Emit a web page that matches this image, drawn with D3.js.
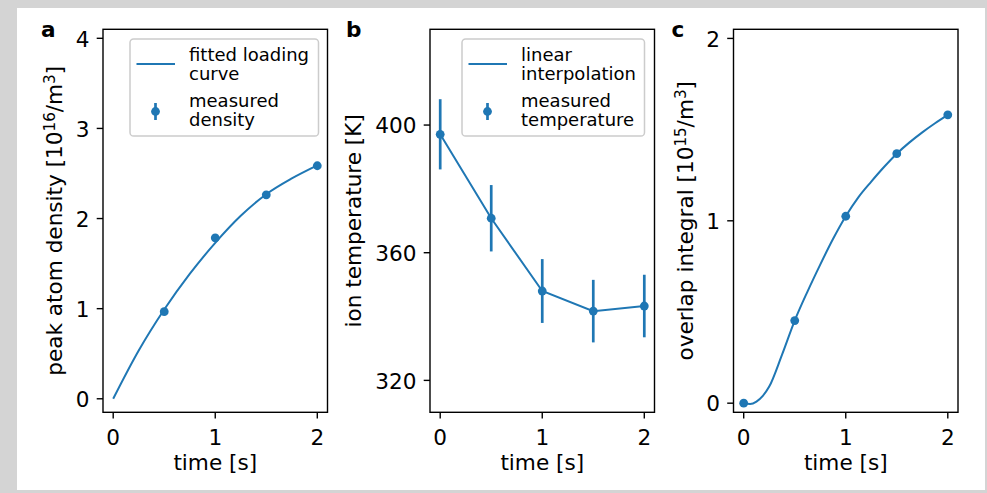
<!DOCTYPE html>
<html>
<head>
<meta charset="utf-8">
<script src="https://cdn.jsdelivr.net/npm/d3@7"></script>
<style>
  body { margin: 0; background: #d4d4d4; }
  svg { display: block; font-family: "DejaVu Sans", sans-serif; }
</style>
</head>
<body>
<svg id="fig" width="987" height="493"></svg>
<script>
// values
var timeTicks = [0, 1, 2];

// panel a: peak atom density
var densityTime = [0.5, 1, 1.5, 2];
var densityValues = [0.967, 1.786, 2.263, 2.586];
var fitTime = [0, 0.25, 0.5, 0.75, 1, 1.25, 1.5, 1.75, 2];
var fitValues = [0, 0.535, 0.99, 1.385, 1.73, 2.03, 2.27, 2.445, 2.59];
var densityTicks = [0, 1, 2, 3, 4];

// panel b: ion temperature
var tempTime = [0, 0.5, 1, 1.5, 2];
var tempValues = [397.1, 370.8, 348.0, 341.7, 343.3];
var tempErrors = [11, 10.4, 10, 9.8, 9.8];
var tempTicks = [320, 360, 400];

// panel c: overlap integral
var overlapTime = [0, 0.5, 1, 1.5, 2];
var overlapValues = [0, 0.453, 1.025, 1.368, 1.581];
var overlapCurveTime = [0, 0.0625, 0.125, 0.1875, 0.25, 0.375, 0.5, 0.625, 0.75, 0.875, 1, 1.125, 1.25, 1.375, 1.5, 1.625, 1.75, 1.875, 2];
var overlapCurveValues = [0, -0.004, 0.009, 0.04, 0.091, 0.265, 0.453, 0.612, 0.76, 0.9, 1.025, 1.13, 1.215, 1.295, 1.368, 1.43, 1.485, 1.535, 1.581];
var overlapTicks = [0, 1, 2];

var blue = "#1f77b4";
var axTop = 29.3, axBottom = 412.3;
var fs = 21.6, legendFs = 18;

var svg = d3.select("#fig");

// white figure area on grey page
svg.append("rect")
  .attr("x", 17).attr("y", 8)
  .attr("width", 968).attr("height", 482)
  .attr("fill", "white");

var panels = [
  { letter: "a", left: 103, right: 327.5, letterX: 41, yDomain: [-0.15, 4.1], yTicks: densityTicks, labelX: 62,
    label: [["peak atom density [10", 0], ["16", 1], ["/m", 0], ["3", 1], ["]", 0]] },
  { letter: "b", left: 430, right: 654.5, letterX: 346, yDomain: [310, 430], yTicks: tempTicks, labelX: 361,
    label: [["ion temperature [K]", 0]] },
  { letter: "c", left: 733.5, right: 958, letterX: 671.5, yDomain: [-0.05, 2.05], yTicks: overlapTicks, labelX: 693,
    label: [["overlap integral [10", 0], ["15", 1], ["/m", 0], ["3", 1], ["]", 0]] }
];

panels.forEach(function(p) {
  p.x = d3.scaleLinear().domain([-0.1, 2.1]).range([p.left, p.right]);
  p.y = d3.scaleLinear().domain(p.yDomain).range([axBottom, axTop]);
  p.g = svg.append("g");
});

function drawFrame(p) {
  var g = p.g;

  g.append("rect")
    .attr("x", p.left).attr("y", axTop)
    .attr("width", p.right - p.left).attr("height", axBottom - axTop)
    .attr("fill", "none")
    .attr("stroke", "black")
    .attr("stroke-width", 1.4);

  // x ticks
  g.selectAll(".xtick")
    .data(timeTicks)
    .enter().append("line")
    .attr("x1", d => p.x(d)).attr("x2", d => p.x(d))
    .attr("y1", axBottom).attr("y2", axBottom + 6.3)
    .attr("stroke", "black").attr("stroke-width", 1.4);

  g.selectAll(".xlab")
    .data(timeTicks)
    .enter().append("text")
    .attr("x", d => p.x(d))
    .attr("y", 445)
    .attr("text-anchor", "middle")
    .attr("font-size", fs)
    .text(d => d);

  // y ticks
  g.selectAll(".ytick")
    .data(p.yTicks)
    .enter().append("line")
    .attr("x1", p.left - 6.3).attr("x2", p.left)
    .attr("y1", d => p.y(d)).attr("y2", d => p.y(d))
    .attr("stroke", "black").attr("stroke-width", 1.4);

  g.selectAll(".ylab")
    .data(p.yTicks)
    .enter().append("text")
    .attr("x", p.left - 13.5)
    .attr("y", d => p.y(d) + 8.2)
    .attr("text-anchor", "end")
    .attr("font-size", fs)
    .text(d => d);

  g.append("text")
    .attr("x", (p.left + p.right) / 2)
    .attr("y", 469.5)
    .attr("text-anchor", "middle")
    .attr("font-size", fs)
    .text("time [s]");

  var lab = g.append("text")
    .attr("transform", "rotate(-90)")
    .attr("x", -(axTop + axBottom) / 2)
    .attr("y", p.labelX)
    .attr("text-anchor", "middle")
    .attr("font-size", fs);

  var raised = 0;
  p.label.forEach(function(part) {
    var shift = part[1] ? -7.5 : 0;
    lab.append("tspan")
      .attr("dy", shift - raised)
      .attr("font-size", part[1] ? 15.1 : fs)
      .text(part[0]);
    raised = shift;
  });

  svg.append("text")
    .attr("x", p.letterX)
    .attr("y", 37)
    .attr("font-size", fs)
    .attr("font-weight", "bold")
    .text(p.letter);
}

function dots(p, xs, ys) {
  p.g.selectAll(null)
    .data(xs)
    .enter().append("circle")
    .attr("cx", d => p.x(d))
    .attr("cy", (d, i) => p.y(ys[i]))
    .attr("r", 4.4)
    .attr("fill", blue);
}

function curve(p, xs, ys, kind) {
  var line = d3.line()
    .x(d => p.x(d))
    .y((d, i) => p.y(ys[i]))
    .curve(kind);
  p.g.append("path")
    .attr("d", line(xs))
    .attr("fill", "none")
    .attr("stroke", blue)
    .attr("stroke-width", 2);
}

function legend(g, box, entries) {
  g.append("rect")
    .attr("x", box[0]).attr("y", box[1])
    .attr("width", box[2]).attr("height", box[3])
    .attr("rx", 3.6)
    .attr("fill", "white").attr("fill-opacity", 0.8)
    .attr("stroke", "#cccccc").attr("stroke-width", 1.5);

  var hx = box[0] + 6.5;
  // line handle
  g.append("line")
    .attr("x1", hx).attr("x2", hx + 38.5)
    .attr("y1", 64).attr("y2", 64)
    .attr("stroke", blue).attr("stroke-width", 2);
  // errorbar handle
  g.append("line")
    .attr("x1", hx + 19).attr("x2", hx + 19)
    .attr("y1", 103).attr("y2", 120)
    .attr("stroke", blue).attr("stroke-width", 2.7);
  g.append("circle")
    .attr("cx", hx + 19).attr("cy", 111.5)
    .attr("r", 4.4)
    .attr("fill", blue);

  var baselines = [[60.7, 79.7], [107, 126]];
  entries.forEach(function(lines, i) {
    lines.forEach(function(t, j) {
      g.append("text")
        .attr("x", hx + 52.5)
        .attr("y", baselines[i][j])
        .attr("font-size", legendFs)
        .text(t);
    });
  });
}

// panel a
var pa = panels[0];
curve(pa, fitTime, fitValues, d3.curveMonotoneX);
dots(pa, densityTime, densityValues);
drawFrame(pa);
legend(pa.g, [130, 39, 188.5, 97], [["fitted loading", "curve"], ["measured", "density"]]);

// panel b
var pb = panels[1];
curve(pb, tempTime, tempValues, d3.curveLinear);
pb.g.selectAll(null)
  .data(tempTime)
  .enter().append("line")
  .attr("x1", d => pb.x(d)).attr("x2", d => pb.x(d))
  .attr("y1", (d, i) => pb.y(tempValues[i] - tempErrors[i]))
  .attr("y2", (d, i) => pb.y(tempValues[i] + tempErrors[i]))
  .attr("stroke", blue)
  .attr("stroke-width", 2.7);
dots(pb, tempTime, tempValues);
drawFrame(pb);
legend(pb.g, [462, 39, 182.5, 97], [["linear", "interpolation"], ["measured", "temperature"]]);

// panel c
var pc = panels[2];
curve(pc, overlapCurveTime, overlapCurveValues, d3.curveMonotoneX);
dots(pc, overlapTime, overlapValues);
drawFrame(pc);
</script>
</body>
</html>
